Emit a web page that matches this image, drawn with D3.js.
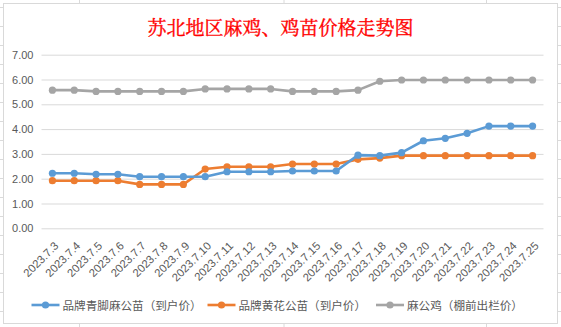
<!DOCTYPE html>
<html><head><meta charset="utf-8">
<script src="https://cdn.jsdelivr.net/npm/d3@7"></script>
<style>body{margin:0;background:#fff}svg{display:block}</style>
</head><body>
<script>
const categories = ["2023.7.3","2023.7.4","2023.7.5","2023.7.6","2023.7.7","2023.7.8","2023.7.9","2023.7.10","2023.7.11","2023.7.12","2023.7.13","2023.7.14","2023.7.15","2023.7.16","2023.7.17","2023.7.18","2023.7.19","2023.7.20","2023.7.21","2023.7.22","2023.7.23","2023.7.24","2023.7.25"];
const blueValues   = [2.22,2.22,2.18,2.18,2.08,2.08,2.08,2.08,2.28,2.28,2.28,2.31,2.31,2.31,2.95,2.93,3.05,3.53,3.63,3.83,4.12,4.12,4.12];
const orangeValues = [1.92,1.92,1.92,1.92,1.77,1.77,1.77,2.39,2.48,2.48,2.48,2.59,2.59,2.59,2.78,2.83,2.93,2.93,2.93,2.93,2.93,2.93,2.93];
const grayValues   = [5.57,5.57,5.52,5.52,5.52,5.52,5.52,5.62,5.62,5.62,5.62,5.52,5.52,5.52,5.57,5.93,5.98,5.98,5.98,5.98,5.98,5.98,5.98];
const seriesNames  = ["品牌青脚麻公苗（到户价）","品牌黄花公苗（到户价）","麻公鸡（棚前出栏价）"];
const seriesColors = ["#5B9BD5","#ED7D31","#A5A5A5"];
const yTicks = [0,1,2,3,4,5,6,7];
const title = "苏北地区麻鸡、鸡苗价格走势图";

const W = 561, H = 327;
const svg = d3.select("body").append("svg").attr("width", W).attr("height", H);

// spreadsheet background grid
const bg = svg.append("g");
for (let y = 7; y < H; y += 19.02) bg.append("line").attr("x1",0).attr("x2",W).attr("y1",Math.round(y)+0.5).attr("y2",Math.round(y)+0.5).attr("stroke","#dadada");
[79.5, 284, 486.5].forEach(x => bg.append("line").attr("x1",x).attr("x2",x).attr("y1",0).attr("y2",H).attr("stroke","#dadada"));

// chart area
svg.append("rect").attr("x",3.5).attr("y",3.5).attr("width",554).attr("height",320).attr("fill","#fff").attr("stroke","#d9d9d9");

svg.append("text").attr("x",280.5).attr("y",26).attr("text-anchor","middle").attr("dominant-baseline","central")
  .attr("font-family","'Noto Serif CJK SC','Noto Sans CJK SC'").attr("font-size",19).attr("font-weight","normal")
  .attr("fill","#FF0000").attr("stroke","#FF0000").attr("stroke-width",0.35).text(title);

const x = d3.scalePoint().domain(categories).range([41.5, 543.5]).padding(0.5);
const y = d3.scaleLinear().domain([0,7]).range([228.3, 54.7]);

// gridlines
const yAxis = d3.axisLeft(y).tickValues(yTicks).tickFormat(d3.format(".2f")).tickSize(-(543.5-41.5)).tickPadding(8);
const ga = svg.append("g").attr("transform","translate(41.5,0)").call(yAxis);
ga.select(".domain").remove();
ga.selectAll(".tick line").attr("stroke","#d9d9d9");
ga.selectAll(".tick text").attr("fill","#595959").attr("font-family","'Liberation Sans', Arial, sans-serif").attr("font-size",11);

// x labels
const xAxis = d3.axisBottom(x).tickSize(0).tickPadding(0);
const gx = svg.append("g").attr("transform","translate(0,228.3)").call(xAxis);
gx.select(".domain").remove();
gx.selectAll(".tick text")
  .attr("fill","#595959").attr("font-family","'Liberation Sans', Arial, sans-serif").attr("font-size",11.3)
  .attr("text-anchor","end").attr("y",0).attr("dy","0.35em")
  .attr("transform","translate(3.5,15.5) rotate(-45)");

const series = [blueValues, orangeValues, grayValues];
const line = d3.line().x((d,i)=>x(categories[i])).y(d=>y(d));
series.slice().reverse().forEach((vals, ri) => {
  const i = series.length - 1 - ri;
  svg.append("path").datum(vals).attr("d", line).attr("fill","none").attr("stroke",seriesColors[i]).attr("stroke-width",2.6).attr("stroke-linejoin","round");
  svg.append("g").selectAll("circle").data(vals).join("circle")
    .attr("cx",(d,k)=>x(categories[k])).attr("cy",d=>y(d)).attr("r",3.6).attr("fill",seriesColors[i]);
});

// legend
const legendX = [31.5, 207.5, 376];
const legendY = 305;
seriesNames.forEach((n,i) => {
  const g = svg.append("g").attr("transform",`translate(${legendX[i]},${legendY})`);
  g.append("line").attr("x1",0).attr("x2",28).attr("y1",0).attr("y2",0).attr("stroke",seriesColors[i]).attr("stroke-width",2.6);
  g.append("circle").attr("cx",14).attr("cy",0).attr("r",3.6).attr("fill",seriesColors[i]);
  g.append("text").attr("x",31).attr("y",0).attr("dominant-baseline","central").attr("fill","#595959")
    .attr("font-family","'Noto Sans CJK SC'").attr("font-size",11.6).text(n);
});
</script>
</body></html>
